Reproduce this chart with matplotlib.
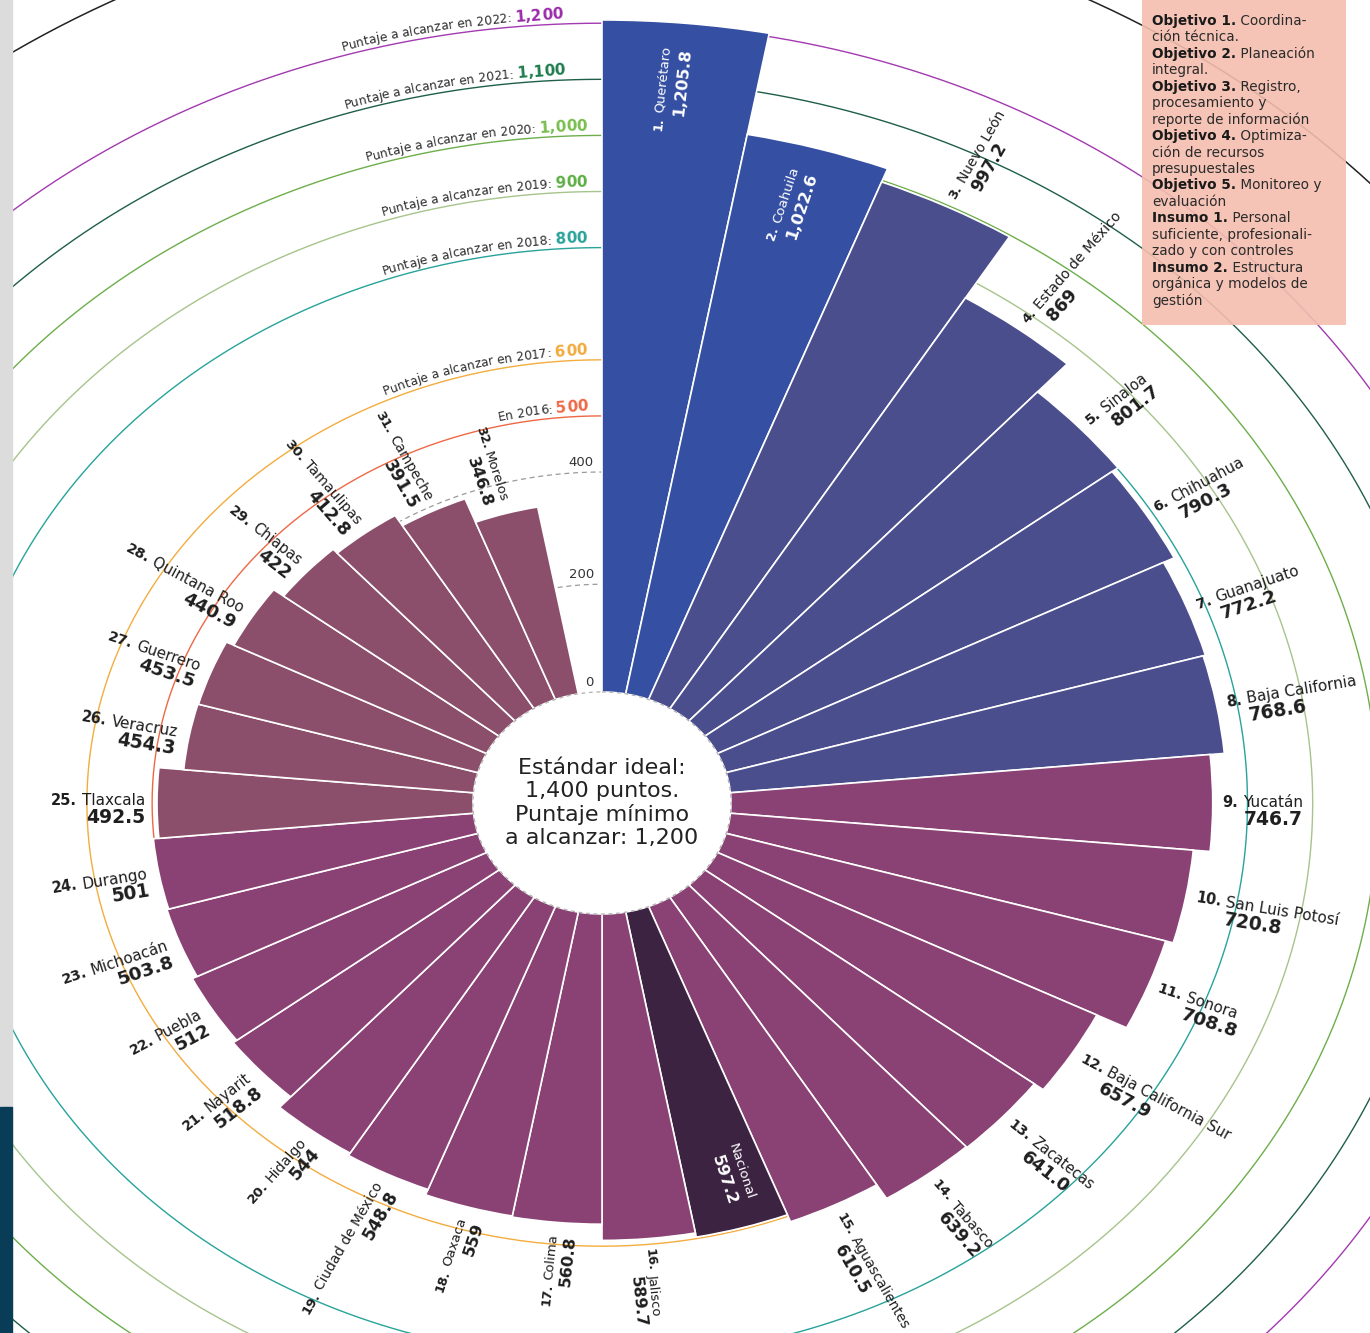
import matplotlib
matplotlib.use('Agg')
import numpy as np
import matplotlib.pyplot as plt
from matplotlib.font_manager import FontProperties
from matplotlib.patches import Rectangle

# --- data -------------------------------------------------------------
ranks = ['1', '2', '3', '4', '5', '6', '7', '8', '9', '10', '11', '12', '13', '14', '15',
         '', '16', '17', '18', '19', '20', '21', '22', '23', '24', '25', '26', '27', '28',
         '29', '30', '31', '32']
states = ['Querétaro', 'Coahuila', 'Nuevo León', 'Estado de México', 'Sinaloa', 'Chihuahua',
          'Guanajuato', 'Baja California', 'Yucatán', 'San Luis Potosí', 'Sonora',
          'Baja California Sur', 'Zacatecas', 'Tabasco', 'Aguascalientes', 'Nacional',
          'Jalisco', 'Colima', 'Oaxaca', 'Ciudad de México', 'Hidalgo', 'Nayarit', 'Puebla',
          'Michoacán', 'Durango', 'Tlaxcala', 'Veracruz', 'Guerrero', 'Quintana Roo',
          'Chiapas', 'Tamaulipas', 'Campeche', 'Morelos']
scores = [1205.8, 1022.6, 997.2, 869, 801.7, 790.3, 772.2, 768.6, 746.7, 720.8, 708.8,
          657.9, 641.0, 639.2, 610.5, 597.2, 589.7, 560.8, 559, 548.8, 544, 518.8, 512,
          503.8, 501, 492.5, 454.3, 453.5, 440.9, 422, 412.8, 391.5, 346.8]
score_text = ['1,205.8', '1,022.6', '997.2', '869', '801.7', '790.3', '772.2', '768.6',
              '746.7', '720.8', '708.8', '657.9', '641.0', '639.2', '610.5', '597.2',
              '589.7', '560.8', '559', '548.8', '544', '518.8', '512', '503.8', '501',
              '492.5', '454.3', '453.5', '440.9', '422', '412.8', '391.5', '346.8']

targets = [500, 600, 800, 900, 1000, 1100, 1200]
target_text = ['En 2016: ', 'Puntaje a alcanzar en 2017: ', 'Puntaje a alcanzar en 2018: ',
               'Puntaje a alcanzar en 2019: ', 'Puntaje a alcanzar en 2020: ',
               'Puntaje a alcanzar en 2021: ', 'Puntaje a alcanzar en 2022: ']
target_values = ['500', '600', '800', '900', '1,000', '1,100', '1,200']
ideal = 1425
guides = [0, 200, 400]

notes = [('Objetivo 1.', ' Coordina-'), ('', 'ción técnica.'),
         ('Objetivo 2.', ' Planeación'), ('', 'integral.'),
         ('Objetivo 3.', ' Registro,'), ('', 'procesamiento y'),
         ('', 'reporte de información'), ('Objetivo 4.', ' Optimiza-'),
         ('', 'ción de recursos'), ('', 'presupuestales'),
         ('Objetivo 5.', ' Monitoreo y'), ('', 'evaluación'),
         ('Insumo 1.', ' Personal'), ('', 'suficiente, profesionali-'),
         ('', 'zado y con controles'), ('Insumo 2.', ' Estructura'),
         ('', 'orgánica y modelos de'), ('', 'gestión')]

# --- style -------------------------------------------------------------
line_colors = ['#EE6845', '#F3AC3E', '#27A39A', '#A6C48C', '#6DAE4B', '#1F5F47', '#A23AB0']
value_colors = ['#EE6845', '#F2AA3A', '#27A39A', '#5DAE45', '#79BE4F', '#1E7B4E', '#9A2BAA']
FAM = 'DejaVu Sans'
INK = '#1e1e1e'


def bar_color(rank):
    if rank == '':
        return '#3C2342'
    n = int(rank)
    if n <= 2:
        return '#3550A2'
    if n <= 8:
        return '#4A4E8D'
    if n <= 24:
        return '#8A4274'
    return '#8C4F6B'


W, H = 1370, 1333
CX, CY = 602, 803          # centre of the wheel in pixels (from top-left)
SX, SY = 0.652, 0.561      # pixels per score unit, horizontally / vertically
K = SX / SY                # the artwork is wider than tall
OFF = 190                  # score 0 sits this far from the centre
RMAX = 1700

fig = plt.figure(figsize=(W / 100, H / 100), dpi=100)
fig.patch.set_facecolor('white')
ax = fig.add_axes([(CX - RMAX * SX) / W, (H - CY - RMAX * SY) / H,
                   2 * RMAX * SX / W, 2 * RMAX * SY / H], projection='polar')
ax.set_aspect('auto')
ax.set_theta_zero_location('N')
ax.set_theta_direction(-1)
ax.set_ylim(0, RMAX)
ax.set_axis_off()

renderer = fig.canvas.get_renderer()
_cache = {}


def tw(s, fp):
    if not s:
        return 0.0
    key = (s, fp.get_weight(), fp.get_size())
    if key not in _cache:
        a = renderer.get_text_width_height_descent(s + '|', fp, ismath=False)[0]
        b = renderer.get_text_width_height_descent('|', fp, ismath=False)[0]
        _cache[key] = a - b
    return _cache[key]


def fprop(size, bold=False):
    return FontProperties(family=FAM, size=size, weight='bold' if bold else 'normal')


def fsize(base, rot):
    # text running vertically looks shorter in the stretched artwork
    a = np.radians(rot)
    return base * np.hypot(K * np.cos(a), np.sin(a)) / K


theta_full = np.linspace(0, 2 * np.pi, 721)

# rings
for v, c in zip(targets, line_colors):
    ax.plot(theta_full, np.full_like(theta_full, OFF + v), color=c, lw=1.0, zorder=1)
ax.plot(theta_full, np.full_like(theta_full, OFF + ideal), color='#222222', lw=1.1, zorder=1)
for g in guides[1:]:
    ax.plot(theta_full, np.full_like(theta_full, OFF + g), color='#9a9a9a', lw=0.9,
            ls=(0, (4, 3)), zorder=1)

# bars
n_slots = len(states) + 1
wid = 2 * np.pi / n_slots
thetas = (np.arange(len(states)) + 0.5) * wid
ax.bar(thetas, scores, width=wid, bottom=OFF, color=[bar_color(r) for r in ranks],
       edgecolor='white', linewidth=1.2, zorder=3)

# centre disc
ax.fill(theta_full, np.full_like(theta_full, OFF + 8), color='white', zorder=5)
ax.plot(theta_full, np.full_like(theta_full, OFF + 8), color='#b0b0b0', lw=0.9,
        ls=(0, (3, 3)), zorder=6)
ax.text(0, 0, 'Estándar ideal:\n1,400 puntos.\nPuntaje mínimo\na alcanzar: 1,200',
        ha='center', va='center', fontsize=16, family=FAM, color='#222222',
        linespacing=1.2, zorder=7)

# guide labels
for g in guides:
    ax.annotate(str(g), (0, OFF + g + (8 if g == 0 else 0)), xytext=(-8, 3),
                textcoords='offset pixels', ha='right', va='bottom', fontsize=9.5,
                family=FAM, color='#333333', zorder=7)


def place(phi, r, s, rot, along, perp, fp, color, ha):
    a = np.radians(rot)
    dx = along * np.cos(a) - perp * np.sin(a)
    dy = along * np.sin(a) + perp * np.cos(a)
    ax.annotate(s, (phi, r), xytext=(dx, dy), textcoords='offset pixels', rotation=rot,
                rotation_mode='anchor', ha=ha, va='baseline', fontproperties=fp,
                color=color, annotation_clip=False, zorder=8)


for phi, rk, name, val, vt in zip(thetas, ranks, states, scores, score_text):
    r_end = OFF + val
    rot = np.degrees(np.arctan2(SY * np.cos(phi), SX * np.sin(phi)))
    if phi >= np.pi:
        rot = rot + 180
        if rot > 180:
            rot -= 360
    fp_num = fprop(fsize(10.5, rot), True)
    fp_name = fprop(fsize(11, rot))
    fp_val = fprop(fsize(13.5, rot), True)
    num = rk + '.' if rk else ''
    if rk in ('', '1', '2'):
        pad = 25
        place(phi, r_end, name, rot, -pad, 13, fp_name, 'white', 'right')
        if num:
            place(phi, r_end, num, rot, -pad - tw(' ' + name, fp_name), 13, fp_num,
                  'white', 'right')
        place(phi, r_end, vt, rot, -pad, -7, fp_val, 'white', 'right')
    elif phi < np.pi:
        pad = 10
        ind = pad + tw(num, fp_num) + tw(' ', fp_name)
        place(phi, r_end, num, rot, pad, -4, fp_num, INK, 'left')
        place(phi, r_end, name, rot, ind, -4, fp_name, INK, 'left')
        place(phi, r_end, vt, rot, ind, -22, fp_val, INK, 'left')
    else:
        pad = 12
        place(phi, r_end, name, rot, -pad, -2, fp_name, INK, 'right')
        place(phi, r_end, num, rot, -pad - tw(' ' + name, fp_name), -2, fp_num, INK, 'right')
        place(phi, r_end, vt, rot, -pad, -20, fp_val, INK, 'right')

# curved ring labels
fp_year = fprop(8.8)
fp_goal = fprop(11, True)
end_px = [14, 15, 15, 15, 15, 37, 39]
phis = np.radians(np.linspace(0, -80, 4000))
for v, txt, vt, col, e in zip(targets, target_text, target_values, value_colors, end_px):
    r = OFF + v + 9
    px = SX * r * np.sin(phis)
    py = SY * r * np.cos(phis)
    cum = np.concatenate([[0], np.cumsum(np.hypot(np.diff(px), np.diff(py)))])
    chars = []
    x0 = 0.0
    for s, fp, c in ((txt, fp_year, '#2a2a2a'), (vt, fp_goal, col)):
        for i, ch in enumerate(s):
            mid = x0 + (tw(s[:i], fp) + tw(s[:i + 1], fp)) / 2
            chars.append((ch, fp, c, mid))
        x0 += tw(s, fp)
    for ch, fp, c, mid in chars:
        if ch == ' ':
            continue
        d = e + (x0 - mid)
        p = np.interp(d, cum, phis)
        rot = np.degrees(np.arctan2(-SY * np.sin(p), SX * np.cos(p)))
        ax.text(p, r, ch, fontproperties=fp, color=c, rotation=rot, rotation_mode='anchor',
                ha='center', va='baseline', zorder=4)

# side strip and note box
fig.add_artist(Rectangle((0, 226 / H), 12 / W, 1 - 226 / H, transform=fig.transFigure,
                         color='#DCDCDC', zorder=5))
fig.add_artist(Rectangle((0, 0), 12 / W, 226 / H, transform=fig.transFigure,
                         color='#083C57', zorder=5))
fig.add_artist(Rectangle((1142 / W, 1 - 325 / H), 204 / W, 325 / H, transform=fig.transFigure,
                         facecolor='#F4BEAE', alpha=0.9, edgecolor='none', zorder=5))
fp_nb = fprop(9.8, True)
fp_nr = fprop(9.8)
for k, (b, rest) in enumerate(notes):
    y = 1 - (20 + k * 16.45 + 5) / H
    x = 1152
    if b:
        fig.text(x / W, y, b, fontproperties=fp_nb, color='#1a1a1a', va='baseline', zorder=6)
        x += tw(b, fp_nb)
    fig.text(x / W, y, rest, fontproperties=fp_nr, color='#2a2a2a', va='baseline', zorder=6)

fig.savefig('out.png', dpi=100)
